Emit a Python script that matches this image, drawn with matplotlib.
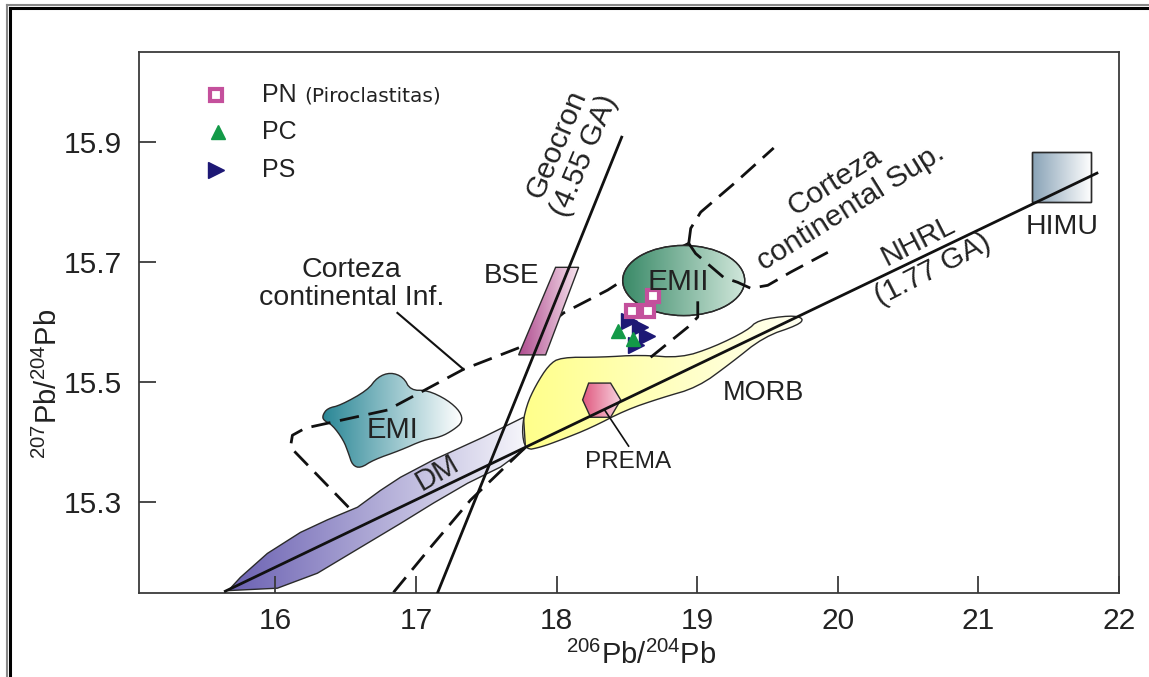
import numpy as np
import matplotlib
matplotlib.use('Agg')
import matplotlib.pyplot as plt
from matplotlib.patches import Polygon, Ellipse, Rectangle
from matplotlib.colors import LinearSegmentedColormap
from matplotlib.lines import Line2D

plt.rcParams['font.family'] = ['Liberation Sans', 'DejaVu Sans']
plt.rcParams['mathtext.fontset'] = 'custom'
plt.rcParams['mathtext.rm'] = 'Liberation Sans'
plt.rcParams['mathtext.it'] = 'Liberation Sans:italic'
plt.rcParams['mathtext.bf'] = 'Liberation Sans:bold'

# ---------------- axes ----------------
x_ticks = [16, 17, 18, 19, 20, 21, 22]
y_ticks = [15.3, 15.5, 15.7, 15.9]
x_lim = (15.03, 22.0)
y_lim = (15.148, 16.05)

# ---------------- samples ----------------
pn_x = [18.683, 18.534, 18.648]
pn_y = [15.643, 15.618, 15.618]
pc_x = [18.434, 18.541]
pc_y = [15.585, 15.571]
ps_x = [18.512, 18.591, 18.641, 18.562]
ps_y = [15.601, 15.591, 15.576, 15.561]

# ---------------- reference lines ----------------
geocron_x = [17.153, 18.463]
geocron_y = [15.148, 15.908]
nhrl_x = [15.644, 21.843]
nhrl_y = [15.151, 15.848]

# dashed crust boundaries
crust_a_x = [16.520, 16.107, 16.121, 16.214, 16.797, 17.338, 17.744, 18.050, 18.363, 18.669, 18.940]
crust_a_y = [15.291, 15.391, 15.411, 15.423, 15.453, 15.521, 15.558, 15.615, 15.653, 15.699, 15.731]
crust_u_x = [18.940, 18.954, 19.025, 19.274, 19.544]
crust_u_y = [15.731, 15.756, 15.783, 15.833, 15.890]
crust_ub_x = [18.940, 18.989, 19.189, 19.288, 19.381, 19.502, 19.665, 19.929]
crust_ub_y = [15.731, 15.714, 15.674, 15.666, 15.656, 15.661, 15.683, 15.716]
crust_b1_x = [16.840, 17.103, 17.388, 17.779]
crust_b1_y = [15.149, 15.224, 15.303, 15.391]
crust_b2_x = [18.669, 18.932, 19.004, 19.004]
crust_b2_y = [15.541, 15.591, 15.608, 15.639]

# ---------------- reservoir fields ----------------
dm_x = [15.665, 15.751, 15.943, 16.178, 16.370, 16.584, 16.747, 16.890, 17.125, 17.480, 17.765,
        17.779, 17.601, 17.367, 17.125, 16.890, 16.605, 16.299, 16.014]
dm_y = [15.152, 15.174, 15.214, 15.249, 15.270, 15.291, 15.319, 15.341, 15.370, 15.408, 15.441,
        15.389, 15.358, 15.331, 15.298, 15.264, 15.224, 15.181, 15.156]
emi_x = [16.335, 16.370, 16.463, 16.655, 16.726, 16.819, 16.911, 16.961, 17.082, 17.224, 17.317, 17.331,
         17.267, 17.174, 17.053, 16.890, 16.698, 16.605, 16.548, 16.520, 16.484, 16.406, 16.342]
emi_y = [15.444, 15.456, 15.461, 15.486, 15.508, 15.516, 15.508, 15.486, 15.486, 15.470, 15.450, 15.433,
         15.420, 15.408, 15.403, 15.386, 15.370, 15.356, 15.361, 15.381, 15.403, 15.428, 15.436]
morb_x = [17.779, 17.751, 17.786, 17.851, 17.943, 18.028, 18.313, 18.598, 18.883, 19.117, 19.359, 19.431,
          19.665, 19.758, 19.722, 19.473, 19.238, 19.004, 18.740, 18.491, 18.242, 18.028, 17.886]
morb_y = [15.386, 15.420, 15.461, 15.494, 15.528, 15.541, 15.541, 15.545, 15.540, 15.558, 15.586, 15.603,
          15.611, 15.606, 15.595, 15.575, 15.531, 15.491, 15.473, 15.453, 15.423, 15.403, 15.391]
prema_x = [18.228, 18.384, 18.456, 18.384, 18.242, 18.185]
prema_y = [15.498, 15.498, 15.470, 15.441, 15.441, 15.470]
bse_x = [17.993, 18.157, 17.922, 17.730]
bse_y = [15.691, 15.691, 15.545, 15.545]
emii_center = (18.904, 15.669)
emii_size = (0.868, 0.117)
himu_x = [21.381, 21.801]
himu_y = [15.800, 15.883]

# leader lines
prema_lead_x = [18.342, 18.512]
prema_lead_y = [15.453, 15.393]
inf_lead_x = [16.868, 17.338]
inf_lead_y = [15.615, 15.521]


def chaikin(xs, ys, n=2):
    pts = np.column_stack([xs, ys])
    for _ in range(n):
        nxt = np.roll(pts, -1, axis=0)
        q = 0.75 * pts + 0.25 * nxt
        r = 0.25 * pts + 0.75 * nxt
        pts = np.empty((2 * len(q), 2))
        pts[0::2] = q
        pts[1::2] = r
    return pts


def grad_fill(ax, patch, c0, c1, z):
    ax.add_patch(patch)
    bb = patch.get_path().vertices
    if isinstance(patch, (Ellipse, Rectangle)):
        ext = patch.get_extents().transformed(ax.transData.inverted())
        x0, x1, y0, y1 = ext.x0, ext.x1, ext.y0, ext.y1
    else:
        x0, x1 = bb[:, 0].min(), bb[:, 0].max()
        y0, y1 = bb[:, 1].min(), bb[:, 1].max()
    cmap = LinearSegmentedColormap.from_list('g', [c0, c1])
    grad = np.linspace(0, 1, 256).reshape(1, -1)
    im = ax.imshow(grad, cmap=cmap, extent=(x0, x1, y0, y1), aspect='auto',
                   origin='lower', zorder=z, interpolation='bilinear')
    im.set_clip_path(patch)
    patch.set_zorder(z + 0.01)


W, H = 1149, 677
fig = plt.figure(figsize=(W / 100, H / 100), dpi=100)
ax = fig.add_axes([139 / W, 1 - 593 / H, (1119 - 139) / W, (593 - 52) / H])
ax.set_xlim(*x_lim)
ax.set_ylim(*y_lim)

edge = '#2a2a2a'
# fields
morb = Polygon(chaikin(morb_x, morb_y), closed=True, facecolor='none', edgecolor=edge, lw=1.0)
grad_fill(ax, morb, '#ffff8a', '#fffff2', 1)
dm = Polygon(np.column_stack([dm_x, dm_y]), closed=True, facecolor='none', edgecolor=edge, lw=1.0)
grad_fill(ax, dm, '#6a60b2', '#f6f6fb', 1)
emi = Polygon(chaikin(emi_x, emi_y), closed=True, facecolor='none', edgecolor=edge, lw=1.0)
grad_fill(ax, emi, '#2a8796', '#ffffff', 1.5)
emii = Ellipse(emii_center, emii_size[0], emii_size[1], facecolor='none', edgecolor=edge, lw=1.0)
ax.add_patch(emii)
grad_fill(ax, emii, '#3a8a68', '#d2e8dc', 3)
bse = Polygon(np.column_stack([bse_x, bse_y]), closed=True, facecolor='none', edgecolor=edge, lw=1.0)
grad_fill(ax, bse, '#b04e90', '#f8e6f0', 3)
prema = Polygon(np.column_stack([prema_x, prema_y]), closed=True, facecolor='none', edgecolor=edge, lw=1.0)
grad_fill(ax, prema, '#e05a80', '#f9d6e2', 3)
himu = Rectangle((himu_x[0], himu_y[0]), himu_x[1] - himu_x[0], himu_y[1] - himu_y[0],
                 facecolor='none', edgecolor=edge, lw=1.0)
ax.add_patch(himu)
grad_fill(ax, himu, '#88a2b6', '#ffffff', 3)

dash_kw = dict(color='#111111', lw=2.0, dashes=(7, 3.5), solid_capstyle='butt', dash_capstyle='butt')
ax.plot(crust_a_x, crust_a_y, zorder=2, **dash_kw)
ax.plot(crust_u_x, crust_u_y, zorder=4, **dash_kw)
ax.plot(crust_ub_x, crust_ub_y, zorder=4, **dash_kw)
ax.plot(crust_b1_x, crust_b1_y, zorder=2, **dash_kw)
ax.plot(crust_b2_x, crust_b2_y, zorder=4, **dash_kw)

ax.plot(geocron_x, geocron_y, color='#111111', lw=2.0, zorder=5)
ax.plot(nhrl_x, nhrl_y, color='#111111', lw=2.0, zorder=5)
ax.plot(prema_lead_x, prema_lead_y, color='#111111', lw=1.2, zorder=5)
ax.plot(inf_lead_x, inf_lead_y, color='#111111', lw=1.5, zorder=5)

# samples
pn_style = dict(marker='s', ms=9, mfc='white', mec='#c4509c', mew=3, ls='none')
pc_style = dict(marker='^', ms=10, color='#139a48', ls='none')
ps_style = dict(marker='>', ms=11, color='#1d1875', ls='none')
ax.plot(ps_x, ps_y, zorder=7, **ps_style)
ax.plot(pc_x, pc_y, zorder=7, **pc_style)
ax.plot(pn_x, pn_y, zorder=7, **pn_style)

# legend (manual)
ax.plot([0.0786], [0.9205], transform=ax.transAxes, zorder=8, **pn_style)
ax.plot([0.0806], [0.852], transform=ax.transAxes, zorder=8, **pc_style)
ax.plot([0.0786], [0.782], transform=ax.transAxes, zorder=8, **ps_style)
ax.text(0.125, 0.9205, 'PN', transform=ax.transAxes, fontsize=18, va='center', ha='left', color='#222222')
ax.text(0.169, 0.918, '(Piroclastitas)', transform=ax.transAxes, fontsize=14.5, va='center', ha='left',
        color='#222222', family='DejaVu Sans')
ax.text(0.125, 0.852, 'PC', transform=ax.transAxes, fontsize=18, va='center', ha='left', color='#222222')
ax.text(0.125, 0.782, 'PS', transform=ax.transAxes, fontsize=18, va='center', ha='left', color='#222222')

# labels
tc = '#222222'
tk = dict(ha='center', va='center', color=tc, rotation_mode='anchor', zorder=9)
ax.text(18.100, 15.886, 'Geocron\n(4.55 GA)', fontsize=21.5, rotation=67, linespacing=1.1, **tk)
ax.text(20.036, 15.813, 'Corteza\ncontinental Sup.', fontsize=21.5, rotation=32, linespacing=1.1, **tk)
ax.text(20.626, 15.711, 'NHRL\n(1.77 GA)', fontsize=21, rotation=27, linespacing=1.2, **tk)
ax.text(16.540, 15.664, 'Corteza\ncontinental Inf.', fontsize=20.5, linespacing=1.1, **tk)
ax.text(17.680, 15.676, 'BSE', fontsize=20, **tk)
ax.text(18.868, 15.666, 'EMII', fontsize=21.5, **tk)
ax.text(16.833, 15.420, 'EMI', fontsize=21, **tk)
ax.text(17.153, 15.348, 'DM', fontsize=21, rotation=30, **tk)
ax.text(18.505, 15.366, 'PREMA', fontsize=17.5, **tk)
ax.text(19.473, 15.481, 'MORB', fontsize=19.5, **tk)
ax.text(21.594, 15.758, 'HIMU', fontsize=20.5, **tk)

# axes style
for s in ax.spines.values():
    s.set_color('#3a3a3a')
    s.set_linewidth(1.3)
ax.set_xticks(x_ticks)
ax.set_yticks(y_ticks)
ax.set_xticklabels([str(v) for v in x_ticks])
ax.set_yticklabels([f'{v:.1f}' for v in y_ticks])
ax.tick_params(axis='both', direction='in', length=12, width=1.3, color='#3a3a3a',
               labelsize=21.5, labelcolor='#222222')
ax.tick_params(axis='x', pad=10)
ax.tick_params(axis='y', pad=12)

fig.text(641 / W, 1 - 655 / H, r'$^{206}$Pb/$^{204}$Pb', fontsize=21, ha='center', va='center', color='#222222')
fig.text(48 / W, 1 - 384 / H, r'$^{207}$Pb/$^{204}$Pb', fontsize=21, ha='center', va='center',
         rotation=90, color='#222222')

# outer frame
fig.add_artist(Line2D([7 / W, 7 / W], [0, 1 - 5 / H], color='#888888', lw=1.5))
fig.add_artist(Line2D([7 / W, 1], [1 - 5 / H, 1 - 5 / H], color='#888888', lw=1.5))
fig.add_artist(Line2D([10 / W, 10 / W], [0, 1 - 8 / H], color='black', lw=2.2))
fig.add_artist(Line2D([10 / W, 1], [1 - 8 / H, 1 - 8 / H], color='black', lw=2.2))

fig.savefig('out.png', dpi=100)
